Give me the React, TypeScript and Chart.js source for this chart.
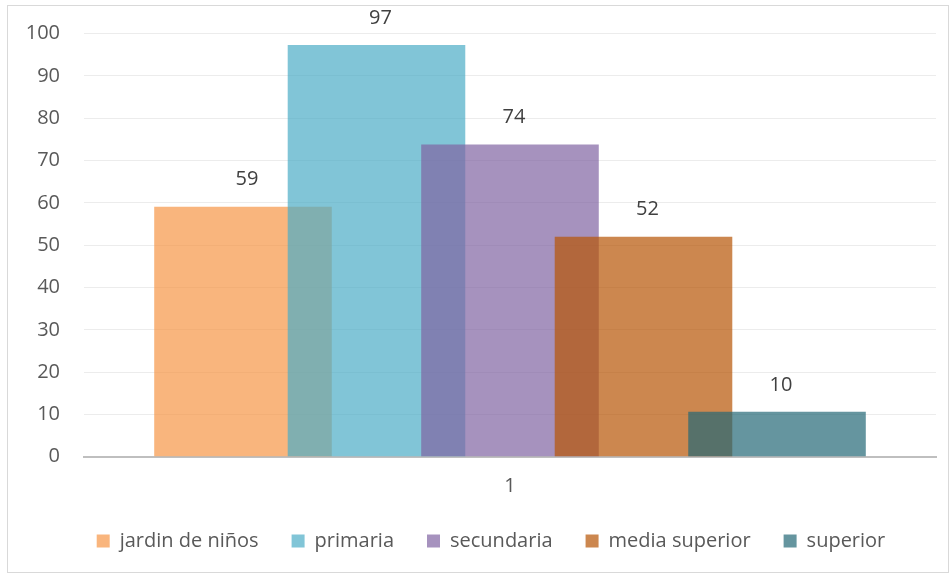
import React, { useEffect, useRef } from "react";
import { Chart, registerables } from "chart.js";

Chart.register(...registerables);

const categories = ["1"];
const seriesNames = ["jardin de niños", "primaria", "secundaria", "media superior", "superior"];
const seriesValues = [59.1, 97.3, 73.8, 52, 10.6];
const dataLabels = ["59", "97", "74", "52", "10"];
const seriesColors = [
  "rgba(247,150,70,0.7)",
  "rgba(75,172,198,0.7)",
  "rgba(128,100,162,0.7)",
  "rgba(182,84,4,0.7)",
  "rgba(35,104,118,0.7)",
];
const yTicks = [0, 10, 20, 30, 40, 50, 60, 70, 80, 90, 100];

const FONT = "'Open Sans', sans-serif";
const TEXT = "#595959";
const LEGEND_SHIFT = 19;

const orderedDrawPlugin = {
  id: "orderedDraw",
  afterLayout(chart: any) {
    if (chart.legend) {
      chart.legend.left += LEGEND_SHIFT;
      chart.legend.right += LEGEND_SHIFT;
    }
  },
  beforeDatasetsDraw(chart: any) {
    const metas = chart.getSortedVisibleDatasetMetas();
    for (const meta of metas) {
      chart.ctx.save();
      meta.controller.draw();
      chart.ctx.restore();
    }
    return false;
  },
  afterDraw(chart: any) {
    const ctx = chart.ctx;
    ctx.save();
    ctx.font = `20px ${FONT}`;
    ctx.fillStyle = "#404040";
    ctx.textAlign = "center";
    ctx.textBaseline = "middle";
    chart.getSortedVisibleDatasetMetas().forEach((meta: any) => {
      const bar = meta.data[0];
      if (!bar) return;
      ctx.fillText(dataLabels[meta.index], bar.x + 4, bar.y - 27);
    });
    ctx.restore();
  },
};

export default function App() {
  const ref = useRef<HTMLCanvasElement | null>(null);

  useEffect(() => {
    if (!ref.current) return;
    const chart = new Chart(ref.current, {
      type: "bar",
      data: {
        labels: categories,
        datasets: seriesNames.map((name, i) => ({
          label: name,
          data: [seriesValues[i]],
          backgroundColor: seriesColors[i],
          borderWidth: 0,
          categoryPercentage: 0.7835,
          barPercentage: 1.33,
        })),
      },
      options: {
        responsive: false,
        animation: false,
        layout: { padding: { top: 27.7, right: 12, bottom: 11, left: 0 } },
        plugins: {
          tooltip: { enabled: false },
          legend: {
            position: "bottom",
            labels: {
              font: { family: FONT, size: 20 },
              color: TEXT,
              boxWidth: 13,
              boxHeight: 13,
              padding: 33,
            },
          },
        },
        scales: {
          x: {
            grid: { display: false, drawTicks: false },
            border: { display: true, color: "#bfbfbf", width: 2 },
            ticks: { font: { family: FONT, size: 20 }, color: TEXT, padding: 18 },
            afterFit: (s: any) => {
              s.height = 41.3;
            },
          },
          y: {
            min: 0,
            max: 100,
            afterBuildTicks: (s: any) => {
              s.ticks = yTicks.map((v) => ({ value: v }));
            },
            grid: {
              color: "#ececec",
              lineWidth: 1,
              drawTicks: true,
              tickLength: 20,
              tickColor: "rgba(0,0,0,0)",
            },
            border: { display: false },
            ticks: { font: { family: FONT, size: 20 }, color: TEXT, padding: 4 },
            afterFit: (s: any) => {
              s.width = 76;
            },
          },
        },
      },
      plugins: [orderedDrawPlugin],
    });
    return () => chart.destroy();
  }, []);

  return (
    <div
      style={{
        position: "absolute",
        left: 7,
        top: 5,
        width: 940,
        height: 566,
        border: "1px solid #d9d9d9",
        background: "#fff",
      }}
    >
      <canvas ref={ref} width={940} height={566} style={{ display: "block" }} />
    </div>
  );
}
